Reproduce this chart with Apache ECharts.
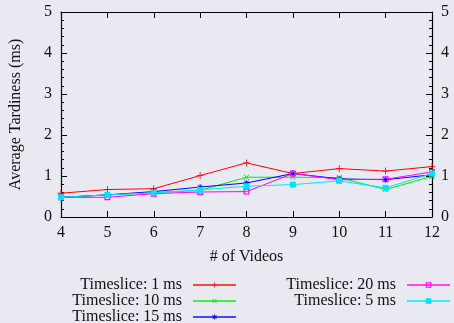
<!DOCTYPE html>
<html><head><meta charset="utf-8">
<script src="https://cdn.jsdelivr.net/npm/echarts@6/dist/echarts.min.js"></script>
<style>html,body{margin:0;padding:0;background:#e9e9f1}#c{width:454px;height:323px}</style>
</head><body><div id="c"></div>
<script>
const videos = [4, 5, 6, 7, 8, 9, 10, 11, 12];
const ts1 = [0.58, 0.67, 0.69, 1.01, 1.32, 1.06, 1.18, 1.12, 1.23];
const ts10 = [0.48, 0.54, 0.59, 0.65, 0.97, 0.97, 0.96, 0.67, 0.99];
const ts15 = [0.48, 0.54, 0.62, 0.73, 0.83, 1.06, 0.93, 0.91, 1.03];
const ts20 = [0.48, 0.48, 0.57, 0.61, 0.62, 1.06, 0.91, 0.92, 1.10];
const ts5 = [0.48, 0.54, 0.59, 0.66, 0.75, 0.79, 0.88, 0.71, 1.06];
const yTicks = [0, 1, 2, 3, 4, 5];
const names = ['Timeslice: 1 ms', 'Timeslice: 10 ms', 'Timeslice: 15 ms', 'Timeslice: 20 ms', 'Timeslice: 5 ms'];

const FONT = 'Liberation Serif';
const plus = 'path://M0,4.4L10,4.4L10,5.6L0,5.6Z M4.4,0L5.6,0L5.6,10L4.4,10Z';
const star = 'path://M0,4.4L10,4.4L10,5.6L0,5.6Z M4.4,0L5.6,0L5.6,10L4.4,10Z M1,1.8L1.8,1L9,8.2L8.2,9Z M8.2,1L9,1.8L1.8,9L1,8.2Z';
const openSq = 'path://M0,0H10V10H0Z M2,2V8H8V2Z';
const fillSq = 'path://M0,0H10V10H0Z';

const defs = [
  {data: ts1, color: '#ff0000', symbol: plus, rot: 0, size: 7},
  {data: ts10, color: '#00ee00', symbol: plus, rot: 45, size: 7},
  {data: ts15, color: '#0000ff', symbol: star, rot: 0, size: 6},
  {data: ts20, color: '#ff00ff', symbol: openSq, rot: 0, size: 6},
  {data: ts5, color: '#00e5ff', symbol: fillSq, rot: 0, size: 6}
];

const series = defs.map((d, i) => ({
  name: names[i], type: 'line',
  data: videos.map((v, k) => [v, d.data[k]]),
  symbol: d.symbol, symbolSize: d.size, symbolRotate: d.rot,
  showAllSymbol: true, animation: false,
  lineStyle: {color: d.color, width: 1},
  itemStyle: {color: d.color}
}));

const yAx = (pos, showLabel) => ({
  type: 'value', position: pos, min: 0, max: 5, interval: 1,
  axisLine: {show: true, onZero: false, lineStyle: {color: '#000', width: 1.2}},
  axisTick: {show: true, inside: true, length: 6, lineStyle: {color: '#000'}},
  minorTick: {show: true, splitNumber: 5, length: 3, lineStyle: {color: '#000'}},
  splitLine: {show: false},
  axisLabel: {show: showLabel, color: '#111', fontFamily: FONT, fontSize: 16, margin: 9,
    formatter: v => yTicks.includes(v) ? String(v) : ''}
});

const legendPos = [
  {right: 217, top: 277}, {right: 217, top: 293}, {right: 217, top: 309},
  {right: 3, top: 277}, {right: 3, top: 293}
];

const legends = names.map((n, i) => ({
  data: [n], orient: 'vertical', align: 'right', padding: 0,
  right: legendPos[i].right, top: legendPos[i].top,
  itemWidth: 43, itemHeight: 7, itemGap: 0,
  lineStyle: {width: 2, opacity: 0.7},
  textStyle: {fontFamily: FONT, fontSize: 16, color: '#111', padding: [0, 6, 0, 0]},
  selectedMode: false
}));

const chart = echarts.init(document.getElementById('c'), null, {renderer: 'canvas'});
chart.setOption({
  backgroundColor: '#e9e9f1',
  animation: false,
  grid: {left: 60, right: 22, top: 12, bottom: 106},
  xAxis: [
    {type: 'value', min: 4, max: 12, interval: 1, position: 'bottom',
     name: '# of Videos', nameLocation: 'middle', nameGap: 32,
     nameTextStyle: {fontFamily: FONT, fontSize: 16, color: '#111'},
     axisLine: {show: true, onZero: false, lineStyle: {color: '#000', width: 1.2}},
     axisTick: {show: true, inside: true, length: 6, lineStyle: {color: '#000'}},
     splitLine: {show: false},
     axisLabel: {color: '#111', fontFamily: FONT, fontSize: 16, margin: 8}},
    {type: 'value', min: 4, max: 12, interval: 1, position: 'top',
     axisLine: {show: true, onZero: false, lineStyle: {color: '#000', width: 1.2}},
     axisTick: {show: true, inside: true, length: 6, lineStyle: {color: '#000'}},
     splitLine: {show: false}, axisLabel: {show: false}}
  ],
  yAxis: [
    Object.assign(yAx('left', true), {name: 'Average Tardiness (ms)', nameLocation: 'middle', nameGap: 37,
      nameTextStyle: {fontFamily: FONT, fontSize: 16, color: '#111'}}),
    yAx('right', true)
  ],
  legend: legends,
  series: series
});
</script></body></html>
